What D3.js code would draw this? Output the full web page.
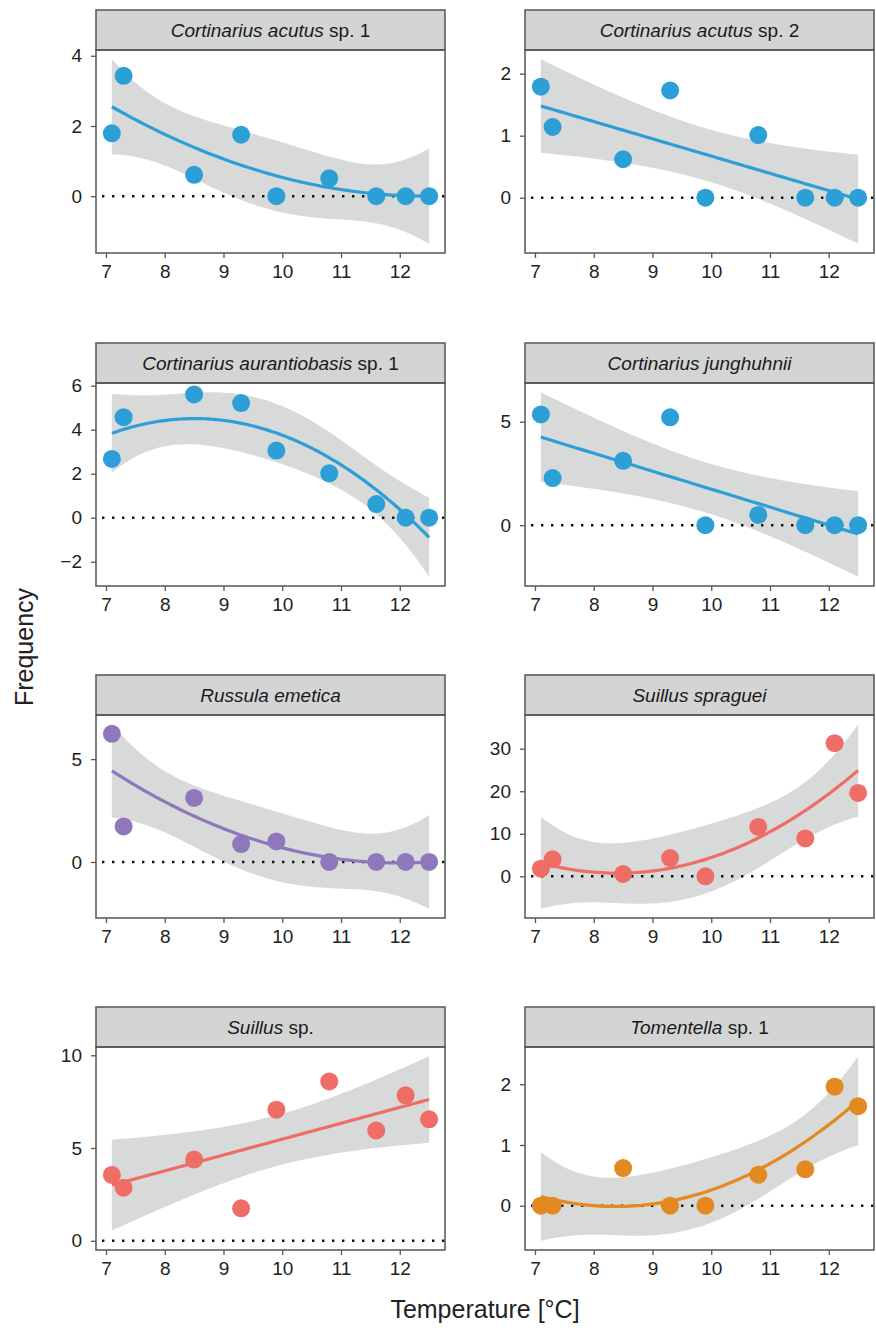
<!DOCTYPE html>
<html>
<head>
<meta charset="utf-8">
<script src="https://cdn.jsdelivr.net/npm/d3@7"></script>
<style>
  body { margin: 0; background: #fff; }
  svg { display: block; font-family: "Liberation Sans", Arial, sans-serif; }
</style>
</head>
<body>
<svg id="chart" width="876" height="1328"></svg>
<script>
// mean soil temperature of the sites (x) and frequency per species (y)
const temps = [7.1, 7.3, 8.5, 9.3, 9.9, 10.8, 11.6, 12.1, 12.5];

const acutus1 = [1.79, 3.43, 0.61, 1.75, 0, 0.51, 0, 0, 0];
const acutus2 = [1.79, 1.14, 0.62, 1.73, 0, 1.01, 0, 0, 0];
const aurantiobasis = [2.67, 4.57, 5.6, 5.21, 3.05, 2.02, 0.62, 0, 0];
const junghuhnii = [5.35, 2.28, 3.11, 5.21, 0, 0.5, 0, 0, 0];
const emetica = [6.23, 1.73, 3.11, 0.87, 1.0, 0, 0, 0, 0];
const spraguei = [1.8, 4.0, 0.55, 4.3, 0, 11.6, 8.9, 31.3, 19.6];
const suillusSp = [3.55, 2.86, 4.38, 1.75, 7.07, 8.59, 5.95, 7.84, 6.55];
const tomentella = [0, 0, 0.62, 0, 0, 0.51, 0.6, 1.96, 1.64];

// panel titles: italic part + plain suffix
const italicNames = ["Cortinarius acutus", "Cortinarius acutus", "Cortinarius aurantiobasis",
  "Cortinarius junghuhnii", "Russula emetica", "Suillus spraguei", "Suillus", "Tomentella"];
const plainNames = [" sp. 1", " sp. 2", " sp. 1", "", "", "", " sp.", " sp. 1"];
const seriesValues = [acutus1, acutus2, aurantiobasis, junghuhnii, emetica, spraguei, suillusSp, tomentella];
const polyDegree = [2, 1, 2, 1, 2, 2, 1, 2];
const seriesColors = ["#2c9fd7", "#2c9fd7", "#2c9fd7", "#2c9fd7", "#8e78bb", "#ee6e67", "#ee6e67", "#e3891f"];
const yTicks = [[0, 2, 4], [0, 1, 2], [-2, 0, 2, 4, 6], [0, 5], [0, 5], [0, 10, 20, 30], [0, 5, 10], [0, 1, 2]];
const xTicks = [7, 8, 9, 10, 11, 12];

// t quantiles (0.975) by residual degrees of freedom
const tQuant = { 6: 2.446912, 7: 2.364624 };

// layout
const colLeft = [96, 525];
const panelW = 349;
const rowTop = [10, 343, 675, 1007];
const stripH = 40;
const panelH = 203;
const border = "#555";

const svg = d3.select("#chart");

// ordinary least squares polynomial fit with 95% confidence band (like geom_smooth(method = "lm"))
function lmFit(xs, ys, deg) {
  const n = xs.length, p = deg + 1;
  const mx = d3.mean(xs);
  const row = (x) => d3.range(p).map((k) => Math.pow(x - mx, k));
  const X = xs.map(row);
  const XtX = d3.range(p).map((i) => d3.range(p).map((j) => d3.sum(X, (r) => r[i] * r[j])));
  const Xty = d3.range(p).map((i) => d3.sum(X, (r, k) => r[i] * ys[k]));
  // invert XtX (Gauss-Jordan)
  const A = XtX.map((r, i) => r.concat(d3.range(p).map((j) => (i === j ? 1 : 0))));
  for (let c = 0; c < p; c++) {
    let piv = c;
    for (let r = c + 1; r < p; r++) if (Math.abs(A[r][c]) > Math.abs(A[piv][c])) piv = r;
    [A[c], A[piv]] = [A[piv], A[c]];
    const d = A[c][c];
    for (let j = 0; j < 2 * p; j++) A[c][j] /= d;
    for (let r = 0; r < p; r++) {
      if (r === c) continue;
      const f = A[r][c];
      for (let j = 0; j < 2 * p; j++) A[r][j] -= f * A[c][j];
    }
  }
  const inv = A.map((r) => r.slice(p));
  const beta = inv.map((r) => d3.sum(r, (v, j) => v * Xty[j]));
  const pred = (x) => d3.sum(row(x), (v, k) => v * beta[k]);
  const rss = d3.sum(xs, (x, i) => (ys[i] - pred(x)) ** 2);
  const sigma2 = rss / (n - p);
  const t = tQuant[n - p];
  const xs80 = d3.range(80).map((i) => xs[0] + (i * (xs[n - 1] - xs[0])) / 79);
  return xs80.map((x) => {
    const v = row(x);
    let q = 0;
    for (let i = 0; i < p; i++) for (let j = 0; j < p; j++) q += v[i] * inv[i][j] * v[j];
    const y = pred(x), se = Math.sqrt(sigma2 * q);
    return { x, y, lo: y - t * se, hi: y + t * se };
  });
}

const xExt = d3.extent(temps);
const xPad = (xExt[1] - xExt[0]) * 0.05;

seriesValues.forEach((vals, idx) => {
  const col = idx % 2, rowI = Math.floor(idx / 2);
  const left = colLeft[col], top = rowTop[rowI];
  const pTop = top + stripH, pBottom = pTop + panelH;
  const fit = lmFit(temps, vals, polyDegree[idx]);

  const yMin = d3.min([0, d3.min(vals), d3.min(fit, (d) => d.lo)]);
  const yMax = d3.max([0, d3.max(vals), d3.max(fit, (d) => d.hi)]);
  const yPad = (yMax - yMin) * 0.05;

  const x = d3.scaleLinear().domain([xExt[0] - xPad, xExt[1] + xPad]).range([left, left + panelW]);
  const y = d3.scaleLinear().domain([yMin - yPad, yMax + yPad]).range([pBottom, pTop]);

  const g = svg.append("g");

  // strip
  g.append("rect")
    .attr("x", left).attr("y", top).attr("width", panelW).attr("height", stripH)
    .attr("fill", "#d3d4d4").attr("stroke", border).attr("stroke-width", 1.5);
  const st = g.append("text")
    .attr("x", left + panelW / 2).attr("y", top + stripH / 2 + 7)
    .attr("text-anchor", "middle").attr("font-size", 19).attr("fill", "#1a1a1a");
  st.append("tspan").attr("font-style", "italic").text(italicNames[idx]);
  if (plainNames[idx]) st.append("tspan").text(plainNames[idx]);

  // ribbon
  g.append("path")
    .datum(fit)
    .attr("fill", "#d8d9d9")
    .attr("d", d3.area().x((d) => x(d.x)).y0((d) => y(d.lo)).y1((d) => y(d.hi)));

  // zero reference line
  g.append("line")
    .attr("x1", left).attr("x2", left + panelW)
    .attr("y1", y(0)).attr("y2", y(0))
    .attr("stroke", "#111").attr("stroke-width", 2.4)
    .attr("stroke-dasharray", "2.4,7.6").attr("stroke-dashoffset", -6);

  // fitted line
  g.append("path")
    .datum(fit)
    .attr("fill", "none")
    .attr("stroke", seriesColors[idx])
    .attr("stroke-width", 3.2)
    .attr("d", d3.line().x((d) => x(d.x)).y((d) => y(d.y)));

  // points
  g.append("g")
    .selectAll("circle")
    .data(vals)
    .join("circle")
    .attr("cx", (d, i) => x(temps[i]))
    .attr("cy", (d) => y(d))
    .attr("r", 9)
    .attr("fill", seriesColors[idx]);

  // panel border
  g.append("rect")
    .attr("x", left).attr("y", pTop).attr("width", panelW).attr("height", panelH)
    .attr("fill", "none").attr("stroke", border).attr("stroke-width", 1.5);

  // axes
  const xAxis = g.append("g")
    .attr("transform", `translate(0,${pBottom})`)
    .call(d3.axisBottom(x).tickValues(xTicks).tickFormat(d3.format("d")).tickSize(5).tickPadding(7));
  const yAxis = g.append("g")
    .attr("transform", `translate(${left},0)`)
    .call(d3.axisLeft(y).tickValues(yTicks[idx]).tickSize(5).tickPadding(9)
      .tickFormat((d) => (d < 0 ? "\u2212" + Math.abs(d) : d)));
  [xAxis, yAxis].forEach((a) => {
    a.select(".domain").remove();
    a.selectAll("line").attr("stroke", border).attr("stroke-width", 1.3);
    a.selectAll("text").attr("font-size", 19).attr("fill", "#222")
      .attr("font-family", "'Liberation Sans', Arial, sans-serif");
  });
});

// axis titles
svg.append("text")
  .attr("x", 485).attr("y", 1318)
  .attr("text-anchor", "middle").attr("font-size", 25).attr("fill", "#222")
  .text("Temperature [°C]");
svg.append("text")
  .attr("transform", "translate(33,647) rotate(-90)")
  .attr("text-anchor", "middle").attr("font-size", 25).attr("fill", "#222")
  .text("Frequency");
</script>
</body>
</html>
